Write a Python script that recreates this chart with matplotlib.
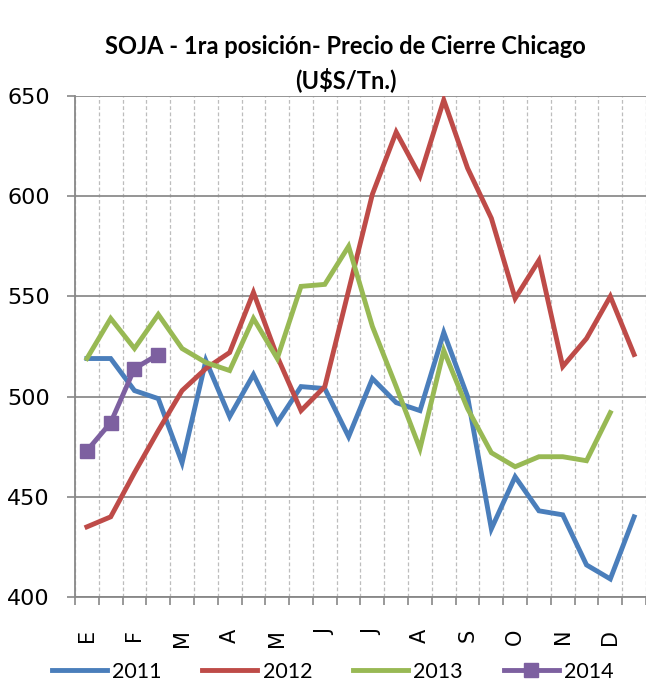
import numpy as np
import matplotlib
matplotlib.use("Agg")
import matplotlib.pyplot as plt

# ---- data (semi-monthly closing price, U$S/Tn) ----
months = ["E", "F", "M", "A", "M", "J", "J", "A", "S", "O", "N", "D"]

soja_2011 = [519, 519, 503, 499, 467, 518, 490, 511, 487, 505, 504, 480,
             509, 497, 493, 532, 500, 434, 460, 443, 441, 416, 409, 440]
soja_2012 = [435, 440, 462, 483, 503, 514, 522, 552, 520, 493, 505, 553,
             601, 632, 610, 648, 614, 589, 549, 568, 515, 529, 550, 521]
soja_2013 = [519, 539, 524, 541, 524, 517, 513, 539, 519, 555, 556, 575,
             535, 505, 474, 523, 494, 472, 465, 470, 470, 468, 492]
soja_2014 = [473, 487, 514, 521]

series = [("2011", soja_2011, "#4A7EBB", None),
          ("2012", soja_2012, "#BE4B48", None),
          ("2013", soja_2013, "#98B954", None),
          ("2014", soja_2014, "#7D60A0", "s")]

fig = plt.figure(figsize=(6.46, 6.84), dpi=100)
ax = fig.add_axes([75 / 646, 1 - 597 / 684, 571 / 646, 501 / 684])

for name, vals, col, mk in series:
    x = np.arange(len(vals))
    ax.plot(x, vals, color=col, lw=3.5, marker=mk, markersize=9.5,
            solid_joinstyle="miter", label=name, zorder=3)

ax.set_xlim(-0.5, 23.5)
ax.set_ylim(400, 650)
ax.set_yticks(np.arange(400, 651, 50))

# month labels on every other point, tick marks at category boundaries
ax.set_xticks(np.arange(0, 24, 2))
ax.set_xticklabels(months, rotation=90, fontsize=15, family="DejaVu Sans")
ax.set_xticks(np.arange(-0.5, 24, 1), minor=True)
ax.tick_params(axis="x", which="major", length=0, pad=23)
ax.tick_params(axis="x", which="minor", length=6, color="#888888", width=1.2)
ax.tick_params(axis="y", length=6, color="#888888", width=1.2, labelsize=16, pad=12)

ax.grid(axis="y", color="#8c8c8c", lw=1.3)
ax.grid(axis="x", which="minor", color="#bdbdbd", lw=0.9, ls=(0, (3, 2)))
ax.set_axisbelow(True)

for s in ["top", "right"]:
    ax.spines[s].set_visible(False)
for s in ["left", "bottom"]:
    ax.spines[s].set_color("#888888")
    ax.spines[s].set_linewidth(1.3)

fig.text(0.535, 1 - 46 / 684, "SOJA - 1ra posición- Precio de Cierre Chicago",
         ha="center", va="center", fontsize=17, fontweight="bold", family="Lato")
fig.text(0.535, 1 - 80 / 684, "(U$S/Tn.)",
         ha="center", va="center", fontsize=17, fontweight="bold", family="Lato")

fig.legend(loc="center", bbox_to_anchor=(0.515, 1 - 672 / 684), ncol=4, frameon=False,
           prop={"family": "Lato", "size": 15.5},
           handlelength=2.55, handletextpad=0.25, columnspacing=1.9)

fig.savefig("out.png", dpi=100)
